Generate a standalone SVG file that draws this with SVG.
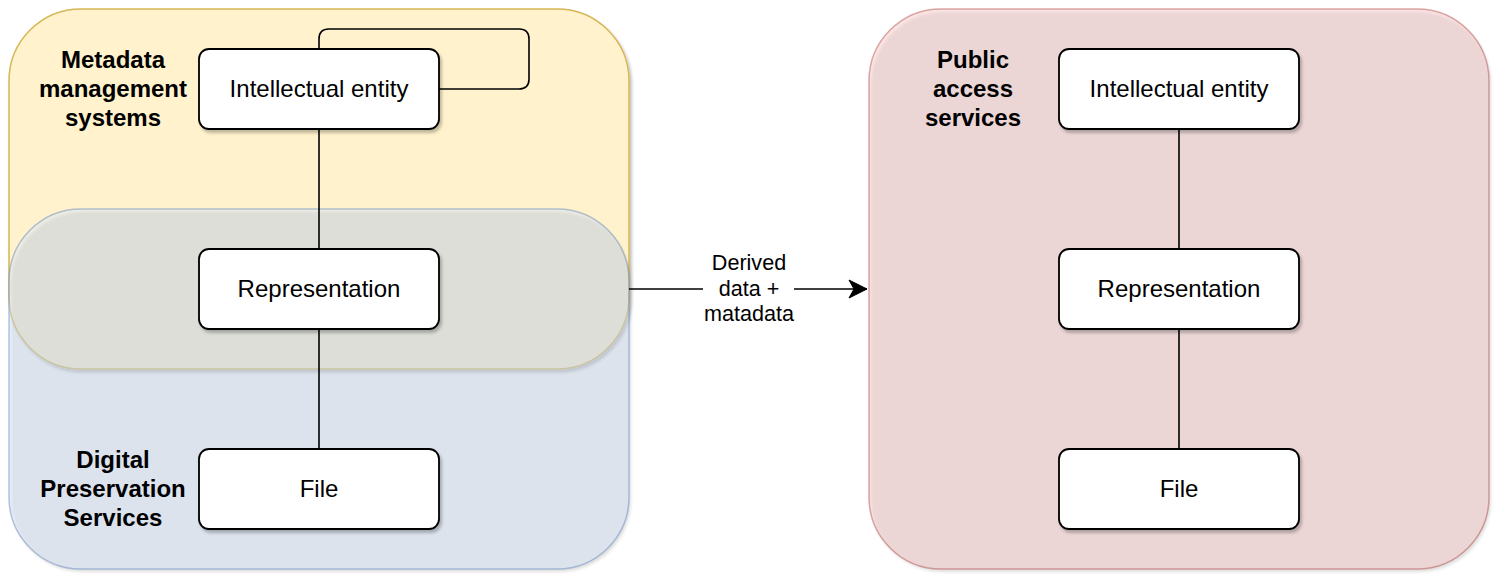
<svg xmlns="http://www.w3.org/2000/svg" width="1502" height="584" viewBox="0 0 1502 584">
  <defs>
    <filter id="sh" x="-10%" y="-10%" width="130%" height="140%">
      <feDropShadow dx="2" dy="3" stdDeviation="1.6" flood-color="#000" flood-opacity="0.25"/>
    </filter>
    <filter id="blur" x="-10%" y="-10%" width="130%" height="130%">
      <feGaussianBlur stdDeviation="1.6"/>
    </filter>
    <marker id="arrow" viewBox="0 0 20 20" refX="19" refY="10" markerWidth="20" markerHeight="20" markerUnits="userSpaceOnUse" orient="auto">
      <path d="M1,1 L19,10 L1,19 L6,10 Z" fill="#000" stroke="#000" stroke-width="1"/>
    </marker>
  </defs>
  <style>
    .node { fill: #ffffff; stroke: #000000; stroke-width: 1.8; filter: url(#sh); }
    .lbl { font-family: "Liberation Sans", Helvetica, Arial, sans-serif; font-size: 24px; fill: #000; text-anchor: middle; }
    .title { font-family: "Liberation Sans", Helvetica, Arial, sans-serif; font-size: 24px; font-weight: bold; fill: #000; text-anchor: middle; }
    .elbl { font-family: "Liberation Sans", Helvetica, Arial, sans-serif; font-size: 21.6px; fill: #000; text-anchor: middle; }
    .conn { fill: none; stroke: #000; stroke-width: 1.6; }
    .shadow { fill: #000; fill-opacity: 0.125; filter: url(#blur); }
  </style>
  <rect width="1502" height="584" fill="#ffffff"/>

  <g id="metadata-management-systems">
    <rect x="9" y="9" width="620" height="360" rx="72" ry="72" fill="#fff2cc" stroke="#d6b656" stroke-width="1.5" filter="url(#sh)"/>
  </g>

  <g id="digital-preservation-services">
    <rect class="shadow" x="11" y="212" width="620" height="360" rx="72" ry="72"/>
    <rect x="9" y="209" width="620" height="360" rx="72" ry="72" fill="#dae8fc" fill-opacity="0.5" stroke="#6c8ebf" stroke-opacity="0.5" stroke-width="1.5"/>
  </g>

  <g id="public-access-services">
    <rect class="shadow" x="871" y="12" width="620" height="560" rx="72" ry="72"/>
    <rect x="869" y="9" width="620" height="560" rx="72" ry="72" fill="#f8cecc" fill-opacity="0.5" stroke="#b85450" stroke-opacity="0.5" stroke-width="1.5"/>
  </g>

  <g id="connectors">
    <path class="conn" d="M319,49 L319,39 Q319,29 329,29 L519,29 Q529,29 529,39 L529,79 Q529,89 519,89 L439,89"/>
    <path class="conn" d="M319,129 L319,249"/>
    <path class="conn" d="M319,329 L319,449"/>
    <path class="conn" d="M1179,129 L1179,249"/>
    <path class="conn" d="M1179,329 L1179,449"/>
    <path class="conn" d="M629,289 L867,289" marker-end="url(#arrow)"/>
    <rect x="703" y="250" width="91" height="78" fill="#ffffff"/>
    <text class="elbl" x="749" y="270">Derived</text>
    <text class="elbl" x="749" y="296">data +</text>
    <text class="elbl" x="749" y="321">matadata</text>
  </g>

  <g id="group-labels">
    <text class="title" x="113" y="68">Metadata</text>
    <text class="title" x="113" y="97">management</text>
    <text class="title" x="113" y="126">systems</text>
    <text class="title" x="113" y="468">Digital</text>
    <text class="title" x="113" y="497">Preservation</text>
    <text class="title" x="113" y="526">Services</text>
    <text class="title" x="973" y="68">Public</text>
    <text class="title" x="973" y="97">access</text>
    <text class="title" x="973" y="126">services</text>
  </g>

  <g id="left-intellectual-entity">
    <rect class="node" x="199" y="49" width="240" height="80" rx="10" ry="10"/>
    <text class="lbl" x="319" y="97">Intellectual entity</text>
  </g>
  <g id="left-representation">
    <rect class="node" x="199" y="249" width="240" height="80" rx="10" ry="10"/>
    <text class="lbl" x="319" y="297">Representation</text>
  </g>
  <g id="left-file">
    <rect class="node" x="199" y="449" width="240" height="80" rx="10" ry="10"/>
    <text class="lbl" x="319" y="497">File</text>
  </g>

  <g id="right-intellectual-entity">
    <rect class="node" x="1059" y="49" width="240" height="80" rx="10" ry="10"/>
    <text class="lbl" x="1179" y="97">Intellectual entity</text>
  </g>
  <g id="right-representation">
    <rect class="node" x="1059" y="249" width="240" height="80" rx="10" ry="10"/>
    <text class="lbl" x="1179" y="297">Representation</text>
  </g>
  <g id="right-file">
    <rect class="node" x="1059" y="449" width="240" height="80" rx="10" ry="10"/>
    <text class="lbl" x="1179" y="497">File</text>
  </g>
</svg>
